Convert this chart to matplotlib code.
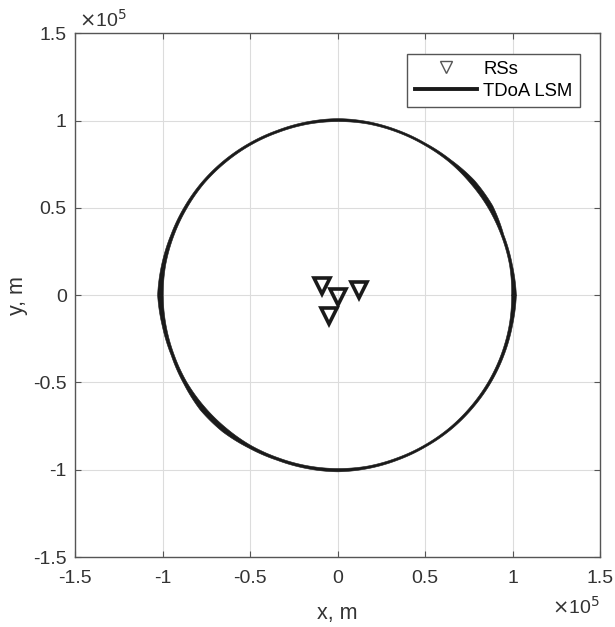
import numpy as np
import matplotlib.pyplot as plt
from matplotlib.lines import Line2D
from matplotlib.ticker import FuncFormatter

plt.rcParams['font.family'] = ['Liberation Sans', 'DejaVu Sans']

# receiving stations (m)
rs_x = [-9000, 0, 12000, -5000]
rs_y = [5000, -1000, 3000, -12000]

# TDoA LSM position cloud: angle (deg), inner and outer radius (m)
loc_ang = [0, 10, 20, 30, 40, 50, 60, 70, 80, 90, 100, 110, 120, 130, 140, 150,
           160, 170, 180, 190, 200, 210, 220, 230, 240, 250, 260, 270, 280, 290,
           300, 310, 320, 330, 340, 350, 360]
loc_r_in = [99500, 99800, 99600, 99500, 99300, 99400, 99200, 99300, 99500, 99400,
            99300, 99100, 99200, 99300, 99500, 99400, 99500, 99700, 99600, 99500,
            99400, 99500, 99300, 99200, 99300, 99100, 99200, 99300, 99400, 99200,
            99200, 99300, 99300, 99400, 99500, 99600, 99500]
loc_r_out = [102200, 101400, 101100, 102400, 102200, 101000, 100500, 100600, 100900,
             101100, 100800, 100500, 100600, 100800, 101000, 101100, 101300, 102000,
             102800, 101700, 101100, 101500, 102400, 102200, 101200, 100700, 100900,
             101200, 100900, 100600, 100500, 100700, 100800, 101000, 101200, 101500,
             102200]

ticks = [-150000, -100000, -50000, 0, 50000, 100000, 150000]

fig = plt.figure(figsize=(6.15, 6.27), dpi=100)
ax = fig.add_axes([0.122, 0.1116, 0.8536, 0.8354])

a = np.deg2rad(np.array(loc_ang, dtype=float))
aa = np.linspace(0, 2 * np.pi, 1441)
r_in = np.interp(aa, a, loc_r_in)
r_out = np.interp(aa, a, loc_r_out)
px = np.concatenate([r_out * np.cos(aa), (r_in * np.cos(aa))[::-1]])
py = np.concatenate([r_out * np.sin(aa), (r_in * np.sin(aa))[::-1]])
ax.fill(px, py, color='#1a1a1a', lw=0.4, ec='#1a1a1a', zorder=3)

ax.plot(rs_x, rs_y, linestyle='none', marker='v', ms=11, mfc='none', mec='#1a1a1a',
        mew=2.6, zorder=4)

ax.set_xlim(-150000, 150000)
ax.set_ylim(-150000, 150000)
ax.set_xticks(ticks)
ax.set_yticks(ticks)
fmt = FuncFormatter(lambda v, p: '0' if v == 0 else ('%g' % (v / 1e5)))
ax.xaxis.set_major_formatter(fmt)
ax.yaxis.set_major_formatter(fmt)
ax.grid(True, color='#dcdcdc', lw=0.8)
ax.set_axisbelow(True)
ax.tick_params(direction='in', top=True, right=True, length=4, colors='#555555',
               labelcolor='#333333', labelsize=14)
ax.tick_params(axis='x', pad=9)
ax.tick_params(axis='y', pad=6)
for s in ax.spines.values():
    s.set_color('#555555')
    s.set_linewidth(1.0)

ax.set_xlabel('x, m', fontsize=15.5, color='#333333', labelpad=12)
ax.set_ylabel('y, m', fontsize=15.5, color='#333333', labelpad=4)

ax.text(0.008, 1.005, r'$\times$10$^5$', transform=ax.transAxes, fontsize=14,
        color='#333333', ha='left', va='bottom')
ax.text(1.0, -0.075, r'$\times$10$^5$', transform=ax.transAxes, fontsize=14,
        color='#333333', ha='right', va='top')

handles = [Line2D([], [], linestyle='none', marker='v', ms=9, mfc='none', mec='#555555', mew=1.0),
           Line2D([], [], color='#1a1a1a', lw=2.8)]
leg = ax.legend(handles, ['RSs', 'TDoA LSM'], loc='upper right', fontsize=13.3,
                fancybox=False, framealpha=1, edgecolor='#555555', handlelength=3.4,
                handletextpad=0.3, borderpad=0.4, borderaxespad=1.1, labelspacing=0.25)
leg.get_frame().set_linewidth(1.0)

fig.savefig('out.png', dpi=100)
